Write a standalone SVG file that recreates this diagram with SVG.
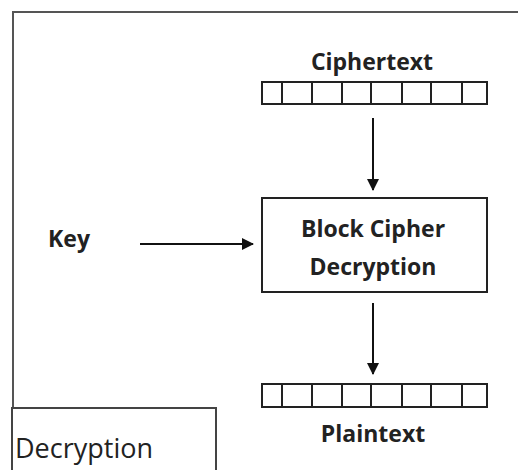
<svg xmlns="http://www.w3.org/2000/svg" width="518" height="470" viewBox="0 0 518 470">
<style>
.frame{fill:none;stroke:#555;stroke-width:2}
.box{fill:#fff;stroke:#222;stroke-width:2}
.cell{fill:none;stroke:#222;stroke-width:2}
.lbl{font-family:"Open Sans","Liberation Sans",sans-serif;font-weight:bold;font-size:23px;fill:#222;text-anchor:middle}
.reg{font-family:"Open Sans","Liberation Sans",sans-serif;font-size:27px;fill:#222}
.conn{stroke:#111;stroke-width:2;fill:none;marker-end:url(#ah)}
</style>
<defs>
<marker id="ah" markerWidth="12" markerHeight="12" refX="11" refY="6" orient="auto" markerUnits="userSpaceOnUse">
<path d="M0,0 L12,6 L0,12 z" fill="#111"/>
</marker>
</defs>
<rect width="518" height="470" fill="#fff"/>
<path class="frame" d="M13,480 L13,12 L530,12"/>
<g id="ciphertext">
<text class="lbl" x="372" y="70">Ciphertext</text>
<rect class="cell" x="262" y="82" width="225" height="22"/>
<path class="cell" d="M282,82V104M312,82V104M342,82V104M371,82V104M402,82V104M431,82V104M462,82V104"/>
</g>
<g id="key">
<text class="lbl" x="69" y="247">Key</text>
</g>
<g id="cipher">
<rect class="box" x="262" y="198" width="225" height="94"/>
<text class="lbl" x="373" y="237">Block Cipher</text>
<text class="lbl" x="373" y="275">Decryption</text>
</g>
<g id="plaintext">
<rect class="cell" x="262" y="384" width="225" height="23"/>
<path class="cell" d="M282,384V407M312,384V407M342,384V407M371,384V407M402,384V407M431,384V407M462,384V407"/>
<text class="lbl" x="373" y="442">Plaintext</text>
</g>
<g id="legend">
<rect x="12" y="408" width="204" height="80" fill="#fff" stroke="#444" stroke-width="2"/>
<text class="reg" x="15" y="458">Decryption</text>
</g>
<g id="connectors">
<line class="conn" x1="373" y1="118" x2="373" y2="190"/>
<line class="conn" x1="140" y1="244" x2="253" y2="244"/>
<line class="conn" x1="373" y1="303" x2="373" y2="374"/>
</g>
</svg>
